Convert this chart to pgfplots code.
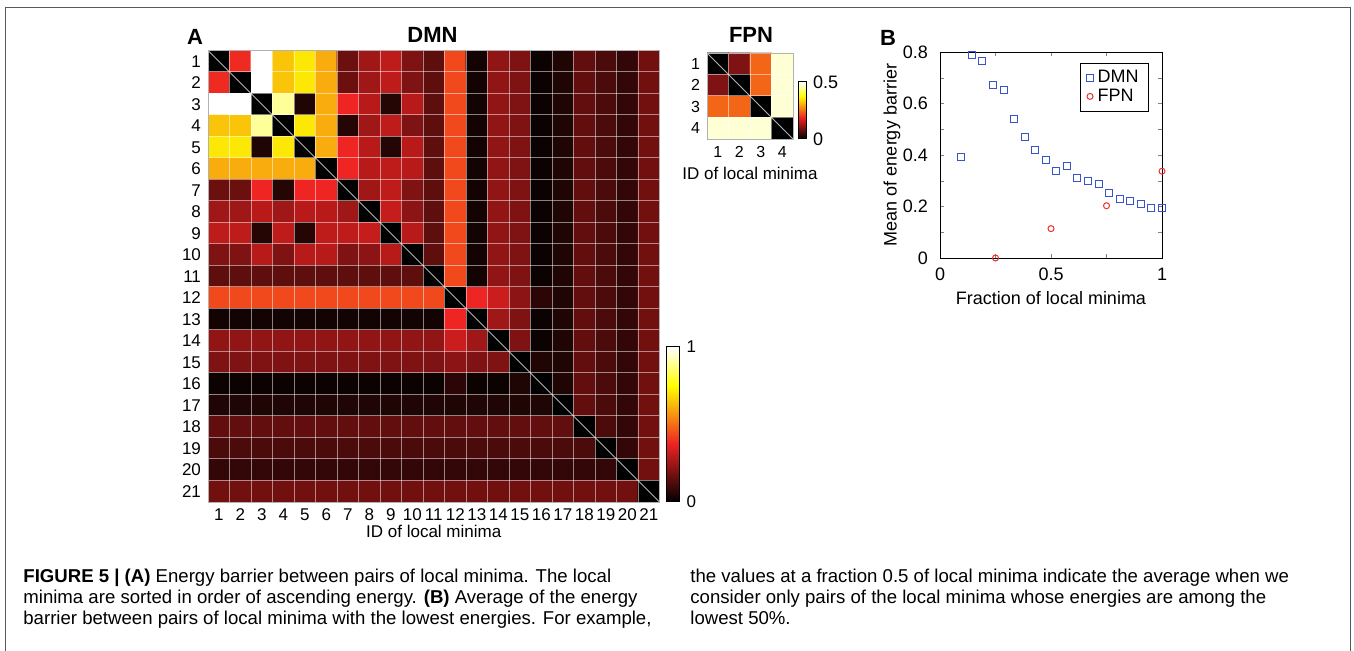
\documentclass[border=0pt]{standalone}
\usepackage{pgfplots}
\pgfplotsset{compat=1.18}
\usepackage{pgfplotstable}
\usepackage{fontspec}
\setmainfont{Liberation Sans}
\definecolor{dmnblue}{rgb}{0.22,0.33,0.80}
\definecolor{fpnred}{rgb}{0.93,0.18,0.18}
\definecolor{framegray}{gray}{0.35}
\pgfplotsset{
  mhot/.style={colormap={mhot}{rgb255(0cm)=(0,0,0); rgb255(3cm)=(238,34,34); rgb255(6cm)=(255,255,0); rgb255(8cm)=(255,255,255)}},
  every axis/.append style={/pgf/number format/assume math mode=true},
}
\newcommand{\tickfont}{\fontsize{8.5}{10}\selectfont}
\newcommand{\labfont}{\fontsize{8.5}{10}\selectfont}
\newcommand{\bfont}{\fontsize{9}{10.5}\selectfont}

% DMN energy barrier matrix: x = column, y = row, c = barrier
\pgfplotstableread[row sep=\\]{
x y c\\
1 1 0\\ 2 1 0.39\\ 3 1 1\\ 4 1 0.65\\ 5 1 0.71\\ 6 1 0.61\\ 7 1 0.17\\ 8 1 0.25\\ 9 1 0.30\\ 10 1 0.20\\ 11 1 0.15\\ 12 1 0.44\\ 13 1 0.03\\ 14 1 0.23\\ 15 1 0.20\\ 16 1 0.02\\ 17 1 0.05\\ 18 1 0.155\\ 19 1 0.12\\ 20 1 0.08\\ 21 1 0.18\\
1 2 0.39\\ 2 2 0\\ 3 2 1\\ 4 2 0.65\\ 5 2 0.71\\ 6 2 0.61\\ 7 2 0.17\\ 8 2 0.25\\ 9 2 0.30\\ 10 2 0.20\\ 11 2 0.15\\ 12 2 0.44\\ 13 2 0.03\\ 14 2 0.23\\ 15 2 0.20\\ 16 2 0.02\\ 17 2 0.05\\ 18 2 0.155\\ 19 2 0.12\\ 20 2 0.08\\ 21 2 0.18\\
1 3 1\\ 2 3 1\\ 3 3 0\\ 4 3 0.90\\ 5 3 0.05\\ 6 3 0.61\\ 7 3 0.38\\ 8 3 0.29\\ 9 3 0.06\\ 10 3 0.29\\ 11 3 0.15\\ 12 3 0.44\\ 13 3 0.03\\ 14 3 0.23\\ 15 3 0.20\\ 16 3 0.02\\ 17 3 0.05\\ 18 3 0.155\\ 19 3 0.12\\ 20 3 0.08\\ 21 3 0.18\\
1 4 0.65\\ 2 4 0.65\\ 3 4 0.90\\ 4 4 0\\ 5 4 0.71\\ 6 4 0.61\\ 7 4 0.06\\ 8 4 0.25\\ 9 4 0.30\\ 10 4 0.20\\ 11 4 0.15\\ 12 4 0.44\\ 13 4 0.03\\ 14 4 0.23\\ 15 4 0.20\\ 16 4 0.02\\ 17 4 0.05\\ 18 4 0.155\\ 19 4 0.12\\ 20 4 0.08\\ 21 4 0.18\\
1 5 0.71\\ 2 5 0.71\\ 3 5 0.05\\ 4 5 0.71\\ 5 5 0\\ 6 5 0.61\\ 7 5 0.38\\ 8 5 0.29\\ 9 5 0.06\\ 10 5 0.29\\ 11 5 0.15\\ 12 5 0.44\\ 13 5 0.03\\ 14 5 0.23\\ 15 5 0.20\\ 16 5 0.02\\ 17 5 0.05\\ 18 5 0.155\\ 19 5 0.12\\ 20 5 0.08\\ 21 5 0.18\\
1 6 0.61\\ 2 6 0.61\\ 3 6 0.61\\ 4 6 0.61\\ 5 6 0.61\\ 6 6 0\\ 7 6 0.38\\ 8 6 0.29\\ 9 6 0.30\\ 10 6 0.29\\ 11 6 0.15\\ 12 6 0.44\\ 13 6 0.03\\ 14 6 0.23\\ 15 6 0.20\\ 16 6 0.02\\ 17 6 0.05\\ 18 6 0.155\\ 19 6 0.12\\ 20 6 0.08\\ 21 6 0.18\\
1 7 0.17\\ 2 7 0.17\\ 3 7 0.38\\ 4 7 0.06\\ 5 7 0.38\\ 6 7 0.38\\ 7 7 0\\ 8 7 0.25\\ 9 7 0.30\\ 10 7 0.20\\ 11 7 0.15\\ 12 7 0.44\\ 13 7 0.03\\ 14 7 0.23\\ 15 7 0.20\\ 16 7 0.02\\ 17 7 0.05\\ 18 7 0.155\\ 19 7 0.12\\ 20 7 0.08\\ 21 7 0.18\\
1 8 0.25\\ 2 8 0.25\\ 3 8 0.29\\ 4 8 0.25\\ 5 8 0.29\\ 6 8 0.29\\ 7 8 0.25\\ 8 8 0\\ 9 8 0.31\\ 10 8 0.22\\ 11 8 0.15\\ 12 8 0.44\\ 13 8 0.03\\ 14 8 0.23\\ 15 8 0.20\\ 16 8 0.02\\ 17 8 0.05\\ 18 8 0.155\\ 19 8 0.12\\ 20 8 0.08\\ 21 8 0.18\\
1 9 0.30\\ 2 9 0.30\\ 3 9 0.06\\ 4 9 0.30\\ 5 9 0.06\\ 6 9 0.30\\ 7 9 0.30\\ 8 9 0.31\\ 9 9 0\\ 10 9 0.29\\ 11 9 0.15\\ 12 9 0.44\\ 13 9 0.03\\ 14 9 0.23\\ 15 9 0.20\\ 16 9 0.02\\ 17 9 0.05\\ 18 9 0.155\\ 19 9 0.12\\ 20 9 0.08\\ 21 9 0.18\\
1 10 0.20\\ 2 10 0.20\\ 3 10 0.29\\ 4 10 0.20\\ 5 10 0.29\\ 6 10 0.29\\ 7 10 0.20\\ 8 10 0.22\\ 9 10 0.29\\ 10 10 0\\ 11 10 0.15\\ 12 10 0.44\\ 13 10 0.03\\ 14 10 0.23\\ 15 10 0.20\\ 16 10 0.02\\ 17 10 0.05\\ 18 10 0.155\\ 19 10 0.12\\ 20 10 0.08\\ 21 10 0.18\\
1 11 0.15\\ 2 11 0.15\\ 3 11 0.15\\ 4 11 0.15\\ 5 11 0.15\\ 6 11 0.15\\ 7 11 0.15\\ 8 11 0.15\\ 9 11 0.15\\ 10 11 0.15\\ 11 11 0\\ 12 11 0.44\\ 13 11 0.03\\ 14 11 0.23\\ 15 11 0.20\\ 16 11 0.02\\ 17 11 0.05\\ 18 11 0.155\\ 19 11 0.12\\ 20 11 0.08\\ 21 11 0.18\\
1 12 0.44\\ 2 12 0.44\\ 3 12 0.44\\ 4 12 0.44\\ 5 12 0.44\\ 6 12 0.44\\ 7 12 0.44\\ 8 12 0.44\\ 9 12 0.44\\ 10 12 0.44\\ 11 12 0.44\\ 12 12 0\\ 13 12 0.38\\ 14 12 0.32\\ 15 12 0.22\\ 16 12 0.07\\ 17 12 0.05\\ 18 12 0.155\\ 19 12 0.12\\ 20 12 0.08\\ 21 12 0.18\\
1 13 0.03\\ 2 13 0.03\\ 3 13 0.03\\ 4 13 0.03\\ 5 13 0.03\\ 6 13 0.03\\ 7 13 0.03\\ 8 13 0.03\\ 9 13 0.03\\ 10 13 0.03\\ 11 13 0.03\\ 12 13 0.38\\ 13 13 0\\ 14 13 0.25\\ 15 13 0.20\\ 16 13 0.02\\ 17 13 0.05\\ 18 13 0.155\\ 19 13 0.12\\ 20 13 0.08\\ 21 13 0.18\\
1 14 0.23\\ 2 14 0.23\\ 3 14 0.23\\ 4 14 0.23\\ 5 14 0.23\\ 6 14 0.23\\ 7 14 0.23\\ 8 14 0.23\\ 9 14 0.23\\ 10 14 0.23\\ 11 14 0.23\\ 12 14 0.32\\ 13 14 0.25\\ 14 14 0\\ 15 14 0.20\\ 16 14 0.02\\ 17 14 0.05\\ 18 14 0.155\\ 19 14 0.12\\ 20 14 0.08\\ 21 14 0.18\\
1 15 0.20\\ 2 15 0.20\\ 3 15 0.20\\ 4 15 0.20\\ 5 15 0.20\\ 6 15 0.20\\ 7 15 0.20\\ 8 15 0.20\\ 9 15 0.20\\ 10 15 0.20\\ 11 15 0.20\\ 12 15 0.22\\ 13 15 0.20\\ 14 15 0.20\\ 15 15 0\\ 16 15 0.05\\ 17 15 0.05\\ 18 15 0.155\\ 19 15 0.12\\ 20 15 0.08\\ 21 15 0.18\\
1 16 0.02\\ 2 16 0.02\\ 3 16 0.02\\ 4 16 0.02\\ 5 16 0.02\\ 6 16 0.02\\ 7 16 0.02\\ 8 16 0.02\\ 9 16 0.02\\ 10 16 0.02\\ 11 16 0.02\\ 12 16 0.07\\ 13 16 0.02\\ 14 16 0.02\\ 15 16 0.05\\ 16 16 0\\ 17 16 0.05\\ 18 16 0.155\\ 19 16 0.12\\ 20 16 0.08\\ 21 16 0.18\\
1 17 0.05\\ 2 17 0.05\\ 3 17 0.05\\ 4 17 0.05\\ 5 17 0.05\\ 6 17 0.05\\ 7 17 0.05\\ 8 17 0.05\\ 9 17 0.05\\ 10 17 0.05\\ 11 17 0.05\\ 12 17 0.05\\ 13 17 0.05\\ 14 17 0.05\\ 15 17 0.05\\ 16 17 0.05\\ 17 17 0\\ 18 17 0.155\\ 19 17 0.12\\ 20 17 0.08\\ 21 17 0.18\\
1 18 0.155\\ 2 18 0.155\\ 3 18 0.155\\ 4 18 0.155\\ 5 18 0.155\\ 6 18 0.155\\ 7 18 0.155\\ 8 18 0.155\\ 9 18 0.155\\ 10 18 0.155\\ 11 18 0.155\\ 12 18 0.155\\ 13 18 0.155\\ 14 18 0.155\\ 15 18 0.155\\ 16 18 0.155\\ 17 18 0.155\\ 18 18 0\\ 19 18 0.12\\ 20 18 0.08\\ 21 18 0.18\\
1 19 0.12\\ 2 19 0.12\\ 3 19 0.12\\ 4 19 0.12\\ 5 19 0.12\\ 6 19 0.12\\ 7 19 0.12\\ 8 19 0.12\\ 9 19 0.12\\ 10 19 0.12\\ 11 19 0.12\\ 12 19 0.12\\ 13 19 0.12\\ 14 19 0.12\\ 15 19 0.12\\ 16 19 0.12\\ 17 19 0.12\\ 18 19 0.12\\ 19 19 0\\ 20 19 0.08\\ 21 19 0.18\\
1 20 0.08\\ 2 20 0.08\\ 3 20 0.08\\ 4 20 0.08\\ 5 20 0.08\\ 6 20 0.08\\ 7 20 0.08\\ 8 20 0.08\\ 9 20 0.08\\ 10 20 0.08\\ 11 20 0.08\\ 12 20 0.08\\ 13 20 0.08\\ 14 20 0.08\\ 15 20 0.08\\ 16 20 0.08\\ 17 20 0.08\\ 18 20 0.08\\ 19 20 0.08\\ 20 20 0\\ 21 20 0.18\\
1 21 0.18\\ 2 21 0.18\\ 3 21 0.18\\ 4 21 0.18\\ 5 21 0.18\\ 6 21 0.18\\ 7 21 0.18\\ 8 21 0.18\\ 9 21 0.18\\ 10 21 0.18\\ 11 21 0.18\\ 12 21 0.18\\ 13 21 0.18\\ 14 21 0.18\\ 15 21 0.18\\ 16 21 0.18\\ 17 21 0.18\\ 18 21 0.18\\ 19 21 0.18\\ 20 21 0.18\\ 21 21 0\\
}\dmndata

\pgfplotstableread[row sep=\\]{
x y c\\
1 1 0\\ 2 1 0.10\\ 3 1 0.245\\ 4 1 0.48\\
1 2 0.10\\ 2 2 0\\ 3 2 0.245\\ 4 2 0.48\\
1 3 0.245\\ 2 3 0.245\\ 3 3 0\\ 4 3 0.48\\
1 4 0.48\\ 2 4 0.48\\ 3 4 0.48\\ 4 4 0\\
}\fpndata

\begin{document}
\begin{tikzpicture}
\path[use as bounding box] (0,0) rectangle (677pt,325.5pt);
\draw[framegray, line width=0.75pt] (2.75pt,0) -- (2.75pt,321.75pt) -- (675.25pt,321.75pt) -- (675.25pt,0);

% panel A, DMN
\begin{axis}[at={(104pt,74.5pt)}, anchor=south west, scale only axis,
  width=225.75pt, height=225.75pt,
  xmin=0.5, xmax=21.5, ymin=0.5, ymax=21.5, y dir=reverse,
  xtick={1,...,21}, ytick={1,...,21},
  minor xtick={1.5,2.5,...,20.5}, minor ytick={1.5,2.5,...,20.5},
  major tick length=0pt, minor tick length=0pt,
  xminorgrids, yminorgrids,
  minor grid style={white, opacity=0.5, line width=0.5pt},
  axis on top, axis line style={gray!60},
  tick label style={font=\tickfont},
  xticklabel style={inner xsep=0pt},
  xlabel={ID of local minima},
  xlabel style={font=\labfont, at={(axis description cs:0.5,-0.066)}, anchor=center},
  mhot, point meta min=0, point meta max=1,
  colorbar,
  colorbar style={at={(parent axis.south east)}, anchor=south west, xshift=-5pt,
    scale only axis, width=6.5pt, height=77.5pt, ytick={0,1},
    major tick length=0pt, axis line style={black, line width=0.5pt},
    tick label style={font=\tickfont}},
]
\addplot[matrix plot*, mesh/cols=21, point meta=explicit] table[x=x, y=y, meta=c] {\dmndata};
\draw[gray!60, line width=0.4pt] (axis cs:0.5,0.5) -- (axis cs:21.5,21.5);
\end{axis}

% FPN
\begin{axis}[at={(353.5pt,256pt)}, anchor=south west, scale only axis,
  width=43pt, height=43pt,
  xmin=0.5, xmax=4.5, ymin=0.5, ymax=4.5, y dir=reverse,
  xtick={1,...,4}, ytick={1,...,4},
  minor xtick={1.5,2.5,3.5}, minor ytick={1.5,2.5,3.5},
  major tick length=0pt, minor tick length=0pt,
  xminorgrids, yminorgrids,
  minor grid style={white, opacity=0.5, line width=0.5pt},
  axis on top, axis line style={gray!60},
  tick label style={font=\fontsize{8}{9.5}\selectfont},
  xlabel={ID of local minima},
  xlabel style={font=\labfont, at={(axis description cs:0.5,-0.395)}, anchor=center},
  mhot, point meta min=0, point meta max=0.5,
  colorbar,
  colorbar style={at={(parent axis.south east)}, anchor=south west, xshift=-6pt,
    scale only axis, width=4pt, height=28.5pt, ytick={0,0.5},
    major tick length=0pt, axis line style={black, line width=0.5pt},
    tick label style={font=\bfont}},
]
\addplot[matrix plot*, mesh/cols=4, point meta=explicit] table[x=x, y=y, meta=c] {\fpndata};
\draw[gray!60, line width=0.4pt] (axis cs:0.5,0.5) -- (axis cs:4.5,4.5);
\end{axis}

% panel B
\begin{axis}[at={(470pt,196.5pt)}, anchor=south west, scale only axis,
  width=111pt, height=103pt,
  xmin=0, xmax=1, ymin=0, ymax=0.8, clip=false,
  xtick={0,0.25,0.5,0.75,1}, xticklabels={0,,0.5,,1},
  ytick={0,0.1,0.2,0.3,0.4,0.5,0.6,0.7,0.8}, yticklabels={0,,0.2,,0.4,,0.6,,0.8},
  major tick length=2pt, tick align=inside,
  tick label style={font=\bfont},
  yticklabel style={xshift=-2.5pt},
  xticklabel style={yshift=-1.5pt},
  xlabel={Fraction of local minima},
  xlabel style={font=\bfont, at={(axis description cs:0.5,-0.194)}, anchor=center},
  ylabel={Mean of energy barrier},
  ylabel style={font=\bfont, at={(axis description cs:-0.216,0.5)}, anchor=center},
  legend style={at={(0.941,0.947)}, anchor=north east, font=\bfont, draw=black,
    inner xsep=3pt, inner ysep=1.5pt, row sep=-2.5pt},
  legend cell align=left,
  legend image code/.code={\draw[mark repeat=2, mark phase=2, #1] plot coordinates {(0cm,0cm) (0.2cm,0cm) (0.4cm,0cm)};},
]
\addplot[only marks, mark=square, mark size=1.75pt, dmnblue, line width=0.5pt] coordinates {
(0.095,0.391) (0.143,0.788) (0.190,0.764) (0.238,0.673) (0.286,0.652)
(0.333,0.541) (0.381,0.471) (0.429,0.421) (0.476,0.382) (0.524,0.339)
(0.571,0.356) (0.619,0.312) (0.667,0.300) (0.714,0.286) (0.762,0.252)
(0.810,0.229) (0.857,0.221) (0.905,0.210) (0.952,0.195) (1.000,0.193)};
\addlegendentry{DMN}
\addplot[only marks, mark=o, mark size=1.5pt, fpnred, line width=0.5pt] coordinates {
(0.25,0) (0.5,0.114) (0.75,0.203) (1,0.337)};
\addlegendentry{FPN}
\end{axis}

% panel titles
\node[font=\bfseries\fontsize{11}{12}\selectfont] at (97.5pt,307pt) {A};
\node[font=\bfseries\fontsize{11}{12}\selectfont] at (444pt,306.5pt) {B};
\node[font=\bfseries\fontsize{11}{12}\selectfont] at (216.25pt,308pt) {DMN};
\node[font=\bfseries\fontsize{11}{12}\selectfont] at (375.5pt,308pt) {FPN};

% caption
\begin{scope}[every node/.style={anchor=base west, inner sep=0pt, font=\fontsize{9.3}{11}\selectfont}]
\node at (11.5pt,34pt) {\textbf{FIGURE 5 | (A)} Energy barrier between pairs of local minima. The local};
\node at (11.5pt,23.5pt) {minima are sorted in order of ascending energy. \textbf{(B)} Average of the energy};
\node at (11.5pt,13pt) {barrier between pairs of local minima with the lowest energies. For example,};
\node at (345pt,34pt) {the values at a fraction 0.5 of local minima indicate the average when we};
\node at (345pt,23.5pt) {consider only pairs of the local minima whose energies are among the};
\node at (345pt,13pt) {lowest 50\%.};
\end{scope}
\end{tikzpicture}
\end{document}
